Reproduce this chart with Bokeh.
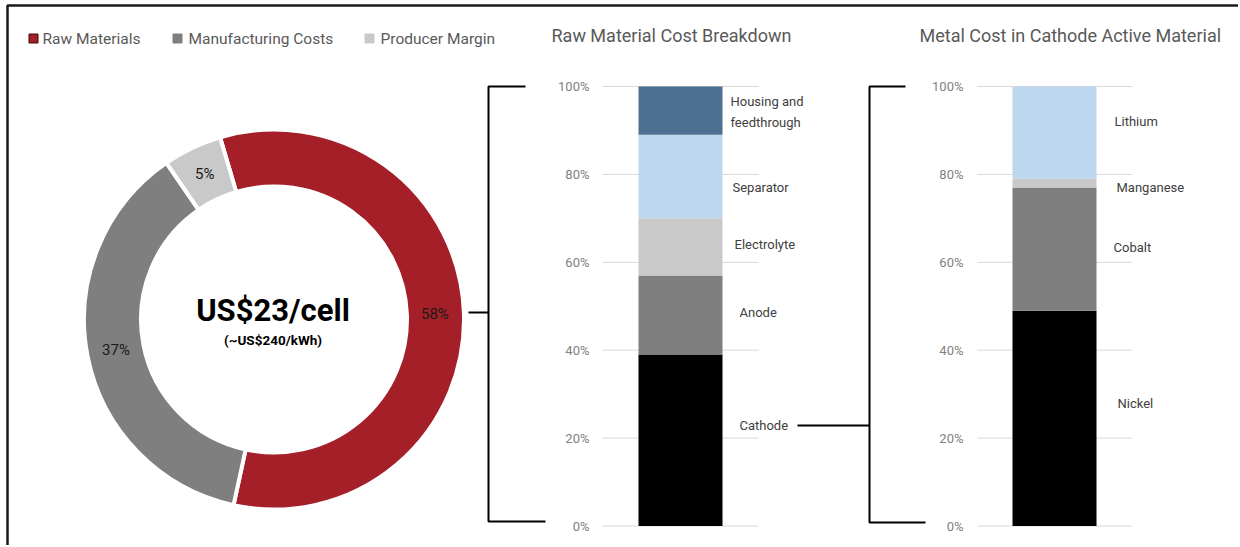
import math
from bokeh.plotting import figure
from bokeh.models import Range1d, ColumnDataSource
from bokeh.core.properties import value
from bokeh.embed import file_html
from bokeh.resources import INLINE

# ---------------- data ----------------
cost_categories = ["Raw Materials", "Manufacturing Costs", "Producer Margin"]
cost_shares = [58, 37, 5]
center_title = "US$23/cell"
center_sub = "(~US$240/kWh)"

raw_components = ["Cathode", "Anode", "Electrolyte", "Separator", "Housing and\nfeedthrough"]
raw_shares = [39, 18, 13, 19, 11]

metal_components = ["Nickel", "Cobalt", "Manganese", "Lithium"]
metal_shares = [49, 28, 2, 21]

pct_ticks = [0, 20, 40, 60, 80, 100]
pct_tick_labels = ["0%", "20%", "40%", "60%", "80%", "100%"]

panel_titles = ["Raw Material Cost Breakdown", "Metal Cost in Cathode Active Material"]

# ---------------- styles / layout ----------------
cost_colors = ["#A51F28", "#7F7F7F", "#C9C9C9"]
raw_colors = ["#000000", "#7F7F7F", "#C9C9C9", "#BDD7EE", "#4E7090"]
metal_colors = ["#000000", "#7F7F7F", "#C9C9C9", "#BDD7EE"]
FONT = value("Roboto")

W, H = 1238, 545
Y0PX, PXPCT = 525.5, 4.395


def Y(py):
    return (Y0PX - py) / PXPCT


p = figure(width=W, height=H, x_range=Range1d(0, W), y_range=Range1d(Y(H), Y(0)),
           x_axis_type=None, y_axis_type=None, output_backend="svg", toolbar_location=None,
           min_border=0, background_fill_color="white", border_fill_color="white")
p.outline_line_color = None
p.grid.visible = False

# frame
p.line(x=[W, 7, 7], y=[Y(5), Y(5), Y(H)], line_color="#1a1a1a", line_width=2.5)

# ---------------- legend ----------------
p.scatter(x=[33, 177, 369], y=[Y(38)] * 3, marker="square", size=9,
          fill_color=cost_colors, line_color=["#3a0a0a", "#7F7F7F", "#C9C9C9"], line_width=1)
p.text(x=[42, 188, 380], y=[Y(38)] * 3, text=cost_categories, text_font=FONT,
       text_font_size="15.5px", text_color="#595959", text_baseline="middle", text_align="left")

# ---------------- donut ----------------
cx, cy_px = 273.5, 319
start_deg = -16.5
starts, ends, mids = [], [], []
cum = 0
for v in cost_shares:
    t0 = start_deg + 360 * cum / 100
    t1 = t0 + 360 * v / 100
    starts.append(math.radians(90 - t0))
    ends.append(math.radians(90 - t1))
    mids.append((t0 + t1) / 2)
    cum += v
p.annular_wedge(x=cx, y=Y(cy_px), inner_radius=133, outer_radius=190,
                inner_radius_units="screen", outer_radius_units="screen",
                start_angle=starts, end_angle=ends, direction="clock",
                fill_color=cost_colors, line_color="white", line_width=4)
r_lab = 161
lx = [cx + r_lab * math.sin(math.radians(t)) for t in mids]
ly = [Y(cy_px - r_lab * math.cos(math.radians(t))) for t in mids]
p.text(x=lx, y=ly, text=[f"{v}%" for v in cost_shares], text_font=FONT, text_font_size="15px",
       text_color="#1a1a1a", text_align="center", text_baseline="middle")
p.text(x=[cx - 1], y=[Y(310)], text=[center_title], text_font=FONT, text_font_size="31px",
       text_font_style="bold", text_color="#000000", text_align="center", text_baseline="middle")
p.text(x=[cx - 1], y=[Y(339)], text=[center_sub], text_font=FONT, text_font_size="13.5px",
       text_font_style="bold", text_color="#000000", text_align="center", text_baseline="middle")

# ---------------- stacked bars ----------------
def stacked(xc, shares, colors, names, label_pos, grid_x, tick_x, title, title_x):
    p.segment(x0=[grid_x[0]] * len(pct_ticks), x1=[grid_x[1]] * len(pct_ticks),
              y0=pct_ticks, y1=pct_ticks, line_color="#D9D9D9", line_width=1)
    p.text(x=[tick_x] * len(pct_ticks), y=pct_ticks, text=pct_tick_labels, text_font=FONT,
           text_font_size="13px", text_color="#808080", text_align="right", text_baseline="middle")
    bottoms, tops = [], []
    c = 0
    for v in shares:
        bottoms.append(c)
        c += v
        tops.append(c)
    src = ColumnDataSource(dict(x=[xc] * len(shares), bottom=bottoms, top=tops, color=colors))
    p.vbar(x="x", bottom="bottom", top="top", width=84, fill_color="color",
           line_color=None, source=src)
    p.text(x=[q[0] for q in label_pos], y=[Y(q[1]) for q in label_pos], text=names,
           text_font=FONT, text_font_size="13px", text_color="#404040", text_align="left",
           text_baseline="middle", text_line_height=1.4)
    p.text(x=[title_x], y=[Y(35)], text=[title], text_font=FONT, text_font_size="18px",
           text_color="#595959", text_align="left", text_baseline="middle")


stacked(680, raw_shares, raw_colors, raw_components,
        [(739, 425), (739, 312), (734, 244), (732, 187), (730, 111.5)],
        (602, 758), 589, panel_titles[0], 551)
stacked(1054, metal_shares, metal_colors, metal_components,
        [(1117, 403), (1113, 247), (1116, 187), (1114, 121)],
        (977, 1132), 963, panel_titles[1], 919)

# ---------------- brackets / connectors ----------------
p.multi_line(xs=[[525, 488, 488, 545], [468, 488], [905, 869, 869, 925], [797, 869]],
             ys=[[Y(86), Y(86), Y(521), Y(521)], [Y(312), Y(312)],
                 [Y(86), Y(86), Y(522), Y(522)], [Y(425), Y(425)]],
             line_color="#000000", line_width=2)

open("out.html", "w").write(file_html(p, INLINE))
